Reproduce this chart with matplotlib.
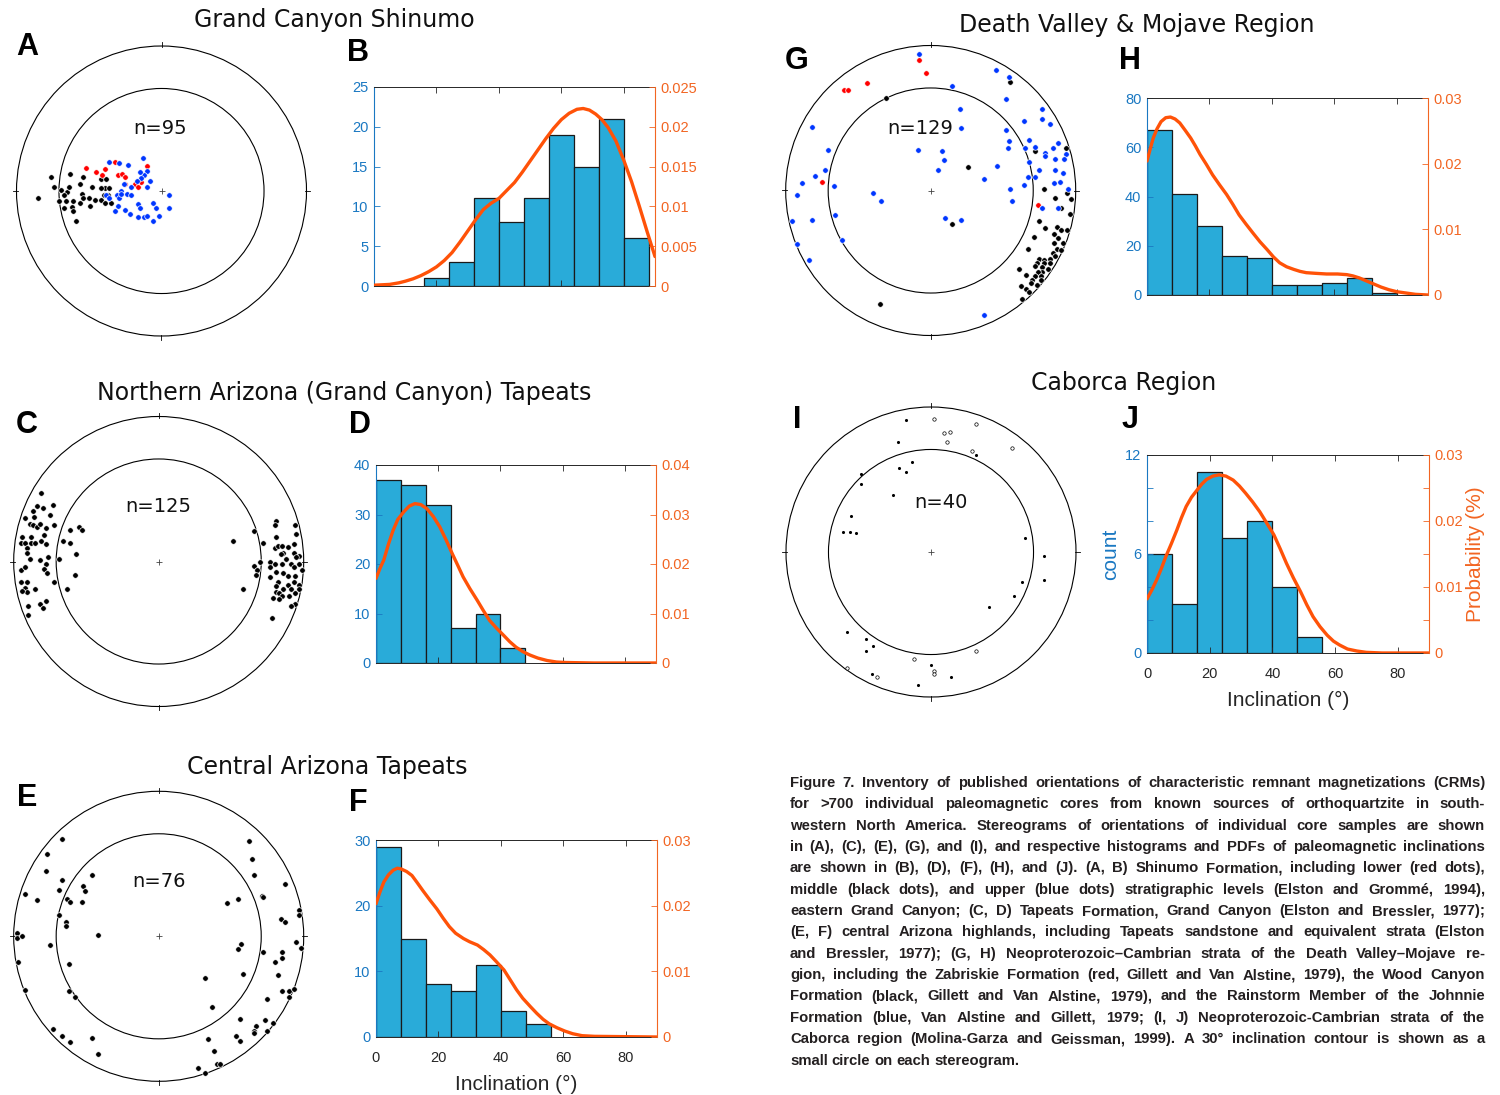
import numpy as np
import matplotlib.pyplot as plt
from matplotlib.patches import Circle

W, H = 1500, 1095

# ---------------- stereonet data (equal-area projection, outer radius = 1) ----------------
a_black_x = [-0.85, -0.76, -0.74, -0.69, -0.65, -0.67, -0.63, -0.64, -0.71, -0.66, -0.61, -0.67, -0.62, -0.61, -0.59,
             -0.54, -0.56, -0.55, -0.56, -0.50, -0.49, -0.48, -0.46, -0.42, -0.38, -0.39, -0.42, -0.40, -0.42, -0.39,
             -0.36, -0.37, -0.35, -0.54]
a_black_y = [-0.05, 0.10, 0.03, 0.01, -0.01, -0.03, 0.12, 0.03, -0.07, -0.07, -0.07, -0.12, -0.11, -0.14, -0.21,
             0.10, 0.05, -0.02, -0.08, -0.05, -0.10, 0.03, -0.06, 0.08, 0.08, 0.02, 0.02, -0.03, -0.06, -0.08,
             0.02, -0.03, -0.08, -0.05]
a_red_x = [-0.52, -0.45, -0.39, -0.41, -0.32, -0.30, -0.27, -0.25, -0.25, -0.18, -0.16, -0.14, -0.10]
a_red_y = [0.16, 0.13, 0.15, 0.11, 0.20, 0.11, 0.12, 0.10, 0.05, 0.05, 0.03, 0.06, 0.17]
a_blue_x = [-0.36, -0.29, -0.23, -0.13, -0.10, -0.12, -0.15, -0.08, -0.14, -0.17, -0.21, -0.26, -0.28, -0.31, -0.29,
            -0.30, -0.32, -0.25, -0.22, -0.16, -0.12, -0.10, -0.06, -0.02, -0.04, -0.06, -0.16, -0.15, 0.05, 0.05,
            -0.28, -0.24, -0.21, -0.10, -0.38, -0.36]
a_blue_y = [0.20, 0.19, 0.18, 0.23, 0.14, 0.11, 0.13, 0.07, 0.09, 0.07, 0.03, 0.05, 0.00, -0.03, -0.05,
            -0.10, -0.14, -0.13, -0.16, -0.18, -0.18, -0.17, -0.21, -0.17, -0.12, -0.08, -0.09, -0.12, -0.03, -0.12,
            -0.02, -0.02, -0.03, 0.03, -0.03, -0.05]

c_x = [-0.81, -0.87, -0.84, -0.80, -0.73, -0.92, -0.86, -0.75, -0.89, -0.87, -0.84, -0.82, -0.78, -0.72, -0.94,
       -0.88, -0.79, -0.95, -0.92, -0.88, -0.85, -0.81, -0.78, -0.91, -0.91, -0.89, -0.82, -0.76, -0.95, -0.92,
       -0.78, -0.79, -0.77, -0.72, -0.95, -0.91, -0.92, -0.91, -0.85, -0.94, -0.78, -0.82, -0.80, -0.90, -0.90,
       -0.69, -0.66, -0.61, -0.61, -0.55, -0.53, -0.57, -0.58, -0.63,
       0.51, 0.66, 0.72, 0.70, 0.66, 0.68, 0.67, 0.58, 0.81, 0.80, 0.94, 0.95, 0.81, 0.80, 0.82,
       0.85, 0.89, 0.93, 0.93, 0.97, 0.86, 0.84, 0.88, 0.77, 0.80, 0.85, 0.91, 0.95, 0.97, 0.99,
       0.77, 0.81, 0.86, 0.93, 0.94, 0.89, 0.77, 0.82, 0.89, 0.93, 0.81, 0.86, 0.97, 0.97, 0.91,
       0.81, 0.83, 0.85, 0.90, 0.94, 0.79, 0.83, 0.94, 0.91, 0.78]
c_y = [0.47, 0.35, 0.38, 0.37, 0.39, 0.30, 0.31, 0.32, 0.26, 0.25, 0.24, 0.26, 0.23, 0.25, 0.17,
       0.17, 0.18, 0.13, 0.13, 0.13, 0.13, 0.14, 0.12, 0.09, 0.06, 0.02, 0.01, 0.03, -0.06, -0.04,
       -0.02, -0.05, -0.08, -0.14, -0.14, -0.14, -0.18, -0.21, -0.19, -0.20, -0.27, -0.29, -0.32, -0.31, -0.37,
       0.02, 0.14, 0.13, 0.22, 0.24, 0.22, 0.05, -0.09, -0.19,
       0.14, 0.21, 0.13, 0.00, -0.03, -0.06, -0.09, -0.19, 0.28, 0.25, 0.25, 0.19, 0.17, 0.09, 0.11,
       0.11, 0.10, 0.12, 0.06, 0.04, 0.06, 0.05, 0.02, 0.00, -0.02, -0.02, -0.02, 0.03, -0.02, -0.06,
       -0.04, -0.07, -0.08, -0.04, -0.10, -0.10, -0.11, -0.14, -0.16, -0.14, -0.17, -0.19, -0.16, -0.19, -0.19,
       -0.21, -0.22, -0.24, -0.24, -0.22, -0.25, -0.26, -0.29, -0.31, -0.39]

e_x = [-0.67, -0.77, -0.78, -0.67, -0.69, -0.92, -0.84, -0.63, -0.61, -0.52, -0.51, -0.53, -0.46, -0.69, -0.64,
       -0.64, -0.42, -0.98, -0.98, -0.94, -0.75, -0.97, -0.62, -0.92, -0.62, -0.58, -0.73, -0.67, -0.61, -0.46,
       -0.42,
       0.62, 0.64, 0.66, 0.87, 0.55, 0.47, 0.71, 0.72, 0.84, 0.87, 0.97, 0.97, 0.95, 0.98, 0.72,
       0.85, 0.85, 0.80, 0.57, 0.55, 0.82, 0.58, 0.32, 0.90, 0.93, 0.85, 0.90, 0.75, 0.37, 0.56,
       0.73, 0.79, 0.67, 0.66, 0.66, 0.75, 0.53, 0.56, 0.34, 0.38, 0.40, 0.42, 0.27, 0.32]
e_y = [0.67, 0.57, 0.45, 0.39, 0.32, 0.29, 0.25, 0.26, 0.24, 0.35, 0.31, 0.24, 0.42, 0.15, 0.10,
       0.07, 0.01, 0.02, -0.01, 0.00, -0.06, -0.18, -0.19, -0.37, -0.38, -0.42, -0.64, -0.69, -0.73, -0.70,
       -0.81,
       0.66, 0.53, 0.42, 0.36, 0.26, 0.23, 0.28, 0.27, 0.12, 0.10, 0.18, 0.15, -0.04, -0.08, -0.11,
       -0.11, -0.15, -0.18, -0.05, -0.09, -0.27, -0.26, -0.29, -0.38, -0.36, -0.38, -0.42, -0.43, -0.49, -0.57,
       -0.58, -0.60, -0.62, -0.65, -0.67, -0.65, -0.69, -0.72, -0.71, -0.79, -0.88, -0.88, -0.91, -0.94]

g_red_x = [-0.08, -0.03, -0.44, -0.60, -0.57, -0.75, 0.74]
g_red_y = [0.90, 0.81, 0.74, 0.69, 0.69, 0.06, -0.10]
g_black_x = [0.55, -0.31, 0.26, 0.72, 0.93, 0.78, 0.94, 0.86, 0.97, 0.90, 0.96, 0.75, 0.79, 0.87, 0.94,
             0.90, 0.85, 0.88, 0.85, 0.91, 0.71, 0.67, 0.87, 0.90, 0.84, 0.86, 0.82, 0.75, 0.78, 0.73,
             0.78, 0.82, 0.72, 0.77, 0.81, 0.61, 0.66, 0.77, 0.74, 0.72, 0.76, 0.70, 0.69, 0.73, 0.62,
             0.66, 0.68, 0.63, 0.15, -0.35, 0.76]
g_black_y = [0.75, 0.64, 0.16, 0.27, 0.29, 0.01, -0.02, -0.05, -0.06, -0.12, -0.16, -0.21, -0.26, -0.25, -0.27,
             -0.27, -0.30, -0.33, -0.36, -0.36, -0.32, -0.40, -0.40, -0.41, -0.43, -0.45, -0.47, -0.47, -0.48, -0.50,
             -0.50, -0.50, -0.52, -0.53, -0.54, -0.54, -0.58, -0.56, -0.56, -0.59, -0.59, -0.62, -0.64, -0.65, -0.66,
             -0.68, -0.70, -0.75, -0.23, -0.78, -0.62]
g_blue_x = [-0.08, 0.45, 0.54, 0.15, 0.52, 0.20, 0.21, -0.82, 0.52, 0.64, 0.77, 0.77, 0.82, 0.54, 0.68,
            0.88, 0.53, 0.65, 0.72, 0.79, 0.84, 0.93, 0.79, 0.86, 0.92, -0.71, -0.09, 0.08, 0.09, 0.05,
            0.46, 0.37, -0.73, -0.80, -0.89, -0.92, -0.67, -0.40, -0.34, 0.55, 0.56, 0.68, 0.75, 0.67, 0.72,
            0.86, 0.91, 0.85, 0.89, 0.95, 0.77, 0.88, 0.64, -0.66, -0.96, -0.82, -0.61, -0.92, -0.84, 0.10,
            0.21, 0.37]
g_blue_y = [0.94, 0.83, 0.78, 0.72, 0.63, 0.56, 0.43, 0.44, 0.42, 0.48, 0.56, 0.49, 0.46, 0.34, 0.35,
            0.33, 0.29, 0.29, 0.30, 0.26, 0.29, 0.25, 0.24, 0.22, 0.22, 0.28, 0.28, 0.27, 0.21, 0.14,
            0.17, 0.08, 0.14, 0.10, 0.05, -0.03, 0.03, -0.02, -0.07, 0.01, -0.07, 0.20, 0.14, 0.09, 0.09,
            0.14, 0.12, 0.05, 0.06, 0.01, -0.12, -0.12, 0.04, -0.17, -0.21, -0.20, -0.34, -0.37, -0.48, -0.19,
            -0.20, -0.86]

i_fill_x = [-0.17, -0.23, 0.31, -0.13, -0.22, -0.17, -0.48, -0.48, -0.26, -0.55, -0.61, -0.56, -0.52, 0.65,
            0.78, 0.78, 0.63, 0.57, 0.40, -0.58, -0.45, -0.40, -0.45, 0.00, -0.41, 0.14, -0.09]
i_fill_y = [0.91, 0.76, 0.67, 0.62, 0.58, 0.55, 0.54, 0.47, 0.39, 0.25, 0.14, 0.14, 0.13, 0.10,
            -0.03, -0.19, -0.21, -0.30, -0.38, -0.55, -0.60, -0.65, -0.68, -0.78, -0.84, -0.86, -0.92]
i_open_x = [0.02, 0.31, 0.09, 0.13, 0.11, 0.56, 0.28, 0.31, -0.12, -0.58, -0.37, 0.02, 0.02]
i_open_y = [0.92, 0.88, 0.82, 0.83, 0.76, 0.72, 0.70, -0.68, -0.74, -0.80, -0.86, -0.82, -0.84]

# ---------------- histogram data (8 degree bins from 0) ----------------
bin_width = 8
b_counts = [0, 0, 1, 3, 11, 8, 11, 19, 15, 21, 6]
d_counts = [37, 36, 32, 7, 10, 3]
f_counts = [29, 15, 8, 7, 11, 4, 2]
h_counts = [67, 41, 28, 16, 15, 4, 4, 5, 7, 1]
j_counts = [6, 3, 11, 7, 8, 4, 1]

# PDF curves (inclination in degrees, probability)
b_pdf_deg = [0, 5, 8, 10, 12.5, 15, 17.5, 20, 22.5, 25, 27.5, 30, 32.5, 35, 37.5, 40, 42.5, 45, 47.5, 50,
             52.5, 55, 57.5, 60, 62.5, 65, 67, 69, 71, 73, 75, 77.5, 80, 82.5, 85, 87.5, 90]
b_pdf_val = [0.0001, 0.0002, 0.0004, 0.0006, 0.0009, 0.0013, 0.0018, 0.0024, 0.0032, 0.0042, 0.0055, 0.0069,
             0.0083, 0.0096, 0.0104, 0.0110, 0.0120, 0.0130, 0.0143, 0.0157, 0.0171, 0.0185, 0.0198, 0.0209,
             0.0217, 0.0222, 0.0223, 0.0221, 0.0216, 0.0209, 0.0199, 0.0182, 0.0158, 0.0131, 0.0100, 0.0068,
             0.0037]
d_pdf_deg = [0, 1.2, 2.5, 4, 5.5, 7, 9, 10.7, 12.5, 14.4, 16.3, 18.4, 20.5, 22.5, 24.5, 26.3, 28, 30.2, 32.5,
             34.5, 36.5, 38.8, 41, 43, 45, 47.2, 49.5, 52, 55, 58, 61, 70, 90]
d_pdf_val = [0.0171, 0.0190, 0.0208, 0.0240, 0.0268, 0.0290, 0.0306, 0.0317, 0.0322, 0.0320, 0.0312, 0.0296,
             0.0275, 0.0249, 0.0221, 0.0197, 0.0174, 0.0150, 0.0127, 0.0106, 0.0086, 0.0070, 0.0056, 0.0043,
             0.0032, 0.0023, 0.0016, 0.0010, 0.0005, 0.0002, 0.0001, 0.0, 0.0]
f_pdf_deg = [0, 1.2, 2.5, 4, 5.5, 6.8, 8, 9.8, 11.5, 13.2, 15, 17.2, 19.5, 21.5, 23.5, 25.5, 28, 30, 32.5,
             34.5, 36.5, 38.5, 41, 43, 45, 47, 49.5, 51.5, 53.5, 55.5, 58, 60.5, 63, 66, 70, 90]
f_pdf_val = [0.0203, 0.0220, 0.0236, 0.0247, 0.0254, 0.0257, 0.0256, 0.0252, 0.0246, 0.0235, 0.0223, 0.0209,
             0.0195, 0.0181, 0.0168, 0.0158, 0.0150, 0.0145, 0.0140, 0.0133, 0.0125, 0.0115, 0.0102, 0.0087,
             0.0072, 0.0059, 0.0046, 0.0036, 0.0027, 0.0020, 0.0014, 0.0009, 0.0005, 0.0002, 0.0001, 0.0]
h_pdf_deg = [0, 1, 2, 3.2, 4.5, 6, 7.5, 9, 10.5, 12.2, 14, 15.5, 17, 19, 21, 23.2, 25.5, 27.5, 29.5, 31.7, 34,
             36.2, 38.5, 40.5, 42.5, 44.7, 47, 49, 51, 54, 57.5, 61, 64, 66, 68, 70, 72.5, 75, 77.5, 80, 83,
             86, 90]
h_pdf_val = [0.0204, 0.0222, 0.0239, 0.0253, 0.0264, 0.0270, 0.0271, 0.0268, 0.0262, 0.0251, 0.0239, 0.0227,
             0.0214, 0.0199, 0.0183, 0.0168, 0.0153, 0.0138, 0.0122, 0.0108, 0.0094, 0.0081, 0.0069, 0.0058,
             0.0049, 0.0043, 0.0039, 0.0036, 0.0034, 0.0033, 0.0032, 0.0032, 0.0031, 0.0029, 0.0026, 0.0022,
             0.0017, 0.0012, 0.0008, 0.0005, 0.0003, 0.0001, 0.0]
j_pdf_deg = [0, 1.5, 3, 4.5, 6, 7.8, 9.5, 11, 12.5, 14.2, 16, 17.5, 19, 21, 23, 25.2, 27.5, 29.5, 31.5, 33.7,
             36, 38.2, 40.5, 42.5, 44.5, 46.7, 49, 51, 53, 55.2, 57.5, 59.5, 61.5, 64, 67, 70, 75, 90]
j_pdf_val = [0.0082, 0.0095, 0.0110, 0.0127, 0.0146, 0.0166, 0.0186, 0.0205, 0.0222, 0.0236, 0.0247, 0.0256,
             0.0263, 0.0268, 0.0270, 0.0268, 0.0262, 0.0253, 0.0242, 0.0229, 0.0214, 0.0197, 0.0179, 0.0158,
             0.0136, 0.0114, 0.0093, 0.0073, 0.0055, 0.0040, 0.0027, 0.0018, 0.0012, 0.0006, 0.0003, 0.0001,
             0.0, 0.0]

incl_ticks = [0, 20, 40, 60, 80]

titles = ['Grand Canyon Shinumo', 'Northern Arizona (Grand Canyon) Tapeats', 'Central Arizona Tapeats',
          'Death Valley & Mojave Region', 'Caborca Region']

caption = [
    "Figure 7. Inventory of published orientations of characteristic remnant magnetizations (CRMs)",
    "for >700 individual paleomagnetic cores from known sources of orthoquartzite in south-",
    "western North America. Stereograms of orientations of individual core samples are shown",
    "in (A), (C), (E), (G), and (I), and respective histograms and PDFs of paleomagnetic inclinations",
    "are shown in (B), (D), (F), (H), and (J). (A, B) Shinumo Formation, including lower (red dots),",
    "middle (black dots), and upper (blue dots) stratigraphic levels (Elston and Grommé, 1994),",
    "eastern Grand Canyon; (C, D) Tapeats Formation, Grand Canyon (Elston and Bressler, 1977);",
    "(E, F) central Arizona highlands, including Tapeats sandstone and equivalent strata (Elston",
    "and Bressler, 1977); (G, H) Neoproterozoic–Cambrian strata of the Death Valley–Mojave re-",
    "gion, including the Zabriskie Formation (red, Gillett and Van Alstine, 1979), the Wood Canyon",
    "Formation (black, Gillett and Van Alstine, 1979), and the Rainstorm Member of the Johnnie",
    "Formation (blue, Van Alstine and Gillett, 1979; (I, J) Neoproterozoic-Cambrian strata of the",
    "Caborca region (Molina-Garza and Geissman, 1999). A 30° inclination contour is shown as a",
    "small circle on each stereogram.",
]

BAR = '#29abd9'
BLUE = '#1a78c2'
ORANGE = '#f26522'
LINE = '#ff5208'
DARK = '#262626'
SANS = ['Liberation Sans', 'DejaVu Sans']

fig = plt.figure(figsize=(15, 10.95), dpi=100)


def px_rect(x0, y0, x1, y1):
    return [x0 / W, 1 - y1 / H, (x1 - x0) / W, (y1 - y0) / H]


def stereonet(cx, cy, r, layers, n_text, n_pos):
    pad = 1.08
    ax = fig.add_axes(px_rect(cx - r * pad, cy - r * pad, cx + r * pad, cy + r * pad))
    ax.set_xlim(-pad, pad)
    ax.set_ylim(-pad, pad)
    ax.axis('off')
    ax.add_patch(Circle((0, 0), 1, fill=False, lw=0.8, color='black'))
    # 30 degree inclination small circle (equal-area)
    r30 = np.sqrt(2) * np.sin(np.radians(90 - 30) / 2)
    ax.add_patch(Circle((0, 0), r30, fill=False, lw=0.8, color='black'))
    for ang in [0, 90, 180, 270]:
        c, s = np.cos(np.radians(ang)), np.sin(np.radians(ang))
        ax.plot([0.99 * c, 1.025 * c], [0.99 * s, 1.025 * s], color='black', lw=0.6)
    ax.plot(0, 0, marker='+', ms=5, mew=0.6, color='#444444')
    for xs, ys, kw in layers:
        ax.scatter(xs, ys, zorder=3, **kw)
    ax.text(n_pos[0], n_pos[1], n_text, ha='center', va='center', fontsize=14,
            family='DejaVu Sans', color='#111111')
    return ax


def dots(color):
    return dict(s=16, c=color, edgecolors='white', linewidths=0.5)


def hist_panel(box, counts, ymax, yticks, ylabels, pdf_deg, pdf_val, pmax, pticks, plabels, xlabels=False):
    ax = fig.add_axes(px_rect(*box))
    edges = np.arange(len(counts)) * bin_width
    keep = [k for k, v in enumerate(counts) if v > 0]
    ax.bar(edges[keep], np.array(counts)[keep], width=bin_width, align='edge', color=BAR,
           edgecolor='#1a1a1a', linewidth=0.9)
    ax.set_xlim(0, 90)
    ax.set_ylim(0, ymax)
    ax.set_yticks(yticks)
    ax.set_yticklabels(ylabels, family=SANS)
    ax.set_xticks(incl_ticks)
    ax.tick_params(axis='y', direction='in', colors=BLUE, labelsize=10.5, length=4, width=0.6, pad=4)
    ax.tick_params(axis='x', direction='in', top=True, bottom=True, labelbottom=xlabels,
                   colors=DARK, labelsize=10.5, length=4, width=0.6, pad=10)
    if xlabels:
        ax.set_xticklabels([str(t) for t in incl_ticks], family=SANS)
        ax.set_xlabel('Inclination (°)', fontsize=15, family=SANS, color=DARK, labelpad=7)
    ax.spines['left'].set_color(BLUE)
    ax.spines['right'].set_visible(False)
    for side in ['top', 'bottom']:
        ax.spines[side].set_color(DARK)
        ax.spines[side].set_linewidth(0.7)

    ax2 = ax.twinx()
    ax2.plot(pdf_deg, pdf_val, color=LINE, lw=2.4, solid_capstyle='round', solid_joinstyle='round')
    ax2.set_ylim(0, pmax)
    ax2.set_yticks(pticks)
    ax2.set_yticklabels(plabels, family=SANS)
    ax2.tick_params(axis='y', direction='in', colors=ORANGE, labelsize=10.5, length=4, width=0.6, pad=4)
    ax2.spines['right'].set_color(ORANGE)
    for side in ['left', 'top', 'bottom']:
        ax2.spines[side].set_visible(False)
    return ax, ax2


def lab(vals):
    return [f'{v:g}' for v in vals]


# ---- stereonets ----
stereonet(161.5, 191, 145, [(a_black_x, a_black_y, dots('black')),
                            (a_red_x, a_red_y, dots('#ff0000')),
                            (a_blue_x, a_blue_y, dots('#0036ff'))], 'n=95', (-0.01, 0.43))
stereonet(158.7, 561.5, 145, [(c_x, c_y, dots('black'))], 'n=125', (0.0, 0.38))
stereonet(158.7, 936.3, 145, [(e_x, e_y, dots('black'))], 'n=76', (0.0, 0.38))
stereonet(930.7, 190.5, 145, [(g_red_x, g_red_y, dots('#ff0000')),
                              (g_black_x, g_black_y, dots('black')),
                              (g_blue_x, g_blue_y, dots('#0036ff'))], 'n=129', (-0.07, 0.43))
stereonet(931, 552, 145, [(i_fill_x, i_fill_y, dict(s=5, c='black', linewidths=0)),
                          (i_open_x, i_open_y, dict(s=6, facecolors='white', edgecolors='black',
                                                    linewidths=0.5))], 'n=40', (0.07, 0.34))

# ---- histograms ----
bt = [0, 5, 10, 15, 20, 25]
bp = [0, 0.005, 0.01, 0.015, 0.02, 0.025]
hist_panel((374, 87, 655, 286), b_counts, 25, bt, lab(bt), b_pdf_deg, b_pdf_val, 0.025, bp, lab(bp))
dt = [0, 10, 20, 30, 40]
dp = [0, 0.01, 0.02, 0.03, 0.04]
hist_panel((376, 465, 656, 663), d_counts, 40, dt, lab(dt), d_pdf_deg, d_pdf_val, 0.04, dp, lab(dp))
ft = [0, 10, 20, 30]
fp = [0, 0.01, 0.02, 0.03]
hist_panel((376, 840, 657, 1037), f_counts, 30, ft, lab(ft), f_pdf_deg, f_pdf_val, 0.03, fp, lab(fp),
           xlabels=True)
ht = [0, 20, 40, 60, 80]
hp = [0, 0.01, 0.02, 0.03]
hist_panel((1147, 98, 1428, 295), h_counts, 80, ht, lab(ht), h_pdf_deg, h_pdf_val, 0.03, hp, lab(hp))
jt = [0, 2, 4, 6, 8, 10, 12]
jp = [0, 0.005, 0.01, 0.015, 0.02, 0.025, 0.03]
jax, jax2 = hist_panel((1147, 455, 1429, 653), j_counts, 12, jt,
                       [f'{v:g}' if v % 6 == 0 else '' for v in jt],
                       j_pdf_deg, j_pdf_val, 0.03, jp,
                       [f'{v:g}' if round(v * 1000) % 10 == 0 else '' for v in jp], xlabels=True)
jax.set_ylabel('count', fontsize=15, family=SANS, color=BLUE, labelpad=4)
jax2.set_ylabel('Probability (%)', fontsize=15, family=SANS, color=ORANGE, labelpad=2)

# ---- titles and panel letters ----
for txt, (x, y) in zip(titles, [(334, 20), (344, 393), (327, 767), (1137, 25), (1124, 383)]):
    fig.text(x / W, 1 - y / H, txt, ha='center', va='center', fontsize=17, family='DejaVu Sans',
             color='#111111')

letters = {'A': (27, 47), 'B': (358, 53), 'C': (27, 425), 'D': (360, 425), 'E': (27, 798), 'F': (358, 803),
           'G': (797, 61), 'H': (1130, 61), 'I': (797, 420), 'J': (1130, 420)}
for k, (x, y) in letters.items():
    fig.text(x / W, 1 - y / H, k, ha='center', va='center', fontsize=22, weight='bold', family=SANS)

# ---- justified caption ----
renderer = fig.canvas.get_renderer()
x0, x1 = 790, 1485
cap_kw = dict(family=SANS, weight='bold', color='#231f20', va='center', ha='left')


def measure(s, size):
    t = fig.text(0, 0, s, fontsize=size, **cap_kw)
    w = t.get_window_extent(renderer).width
    t.remove()
    return w


size = 11.5
while max(measure(line, size) for line in caption) > (x1 - x0) * 0.985 and size > 6:
    size -= 0.25

for i, line in enumerate(caption):
    y = 1 - (783 + i * 21.35) / H
    words = line.split(' ')
    widths = [measure(w, size) for w in words]
    if i == len(caption) - 1:
        gap = measure(line, size) - sum(widths)
        gap /= max(len(words) - 1, 1)
    else:
        gap = ((x1 - x0) - sum(widths)) / (len(words) - 1)
    xp = x0
    for w, wd in zip(words, widths):
        fig.text(xp / W, y, w, fontsize=size, **cap_kw)
        xp += wd + gap

fig.savefig('out.png', dpi=100)
